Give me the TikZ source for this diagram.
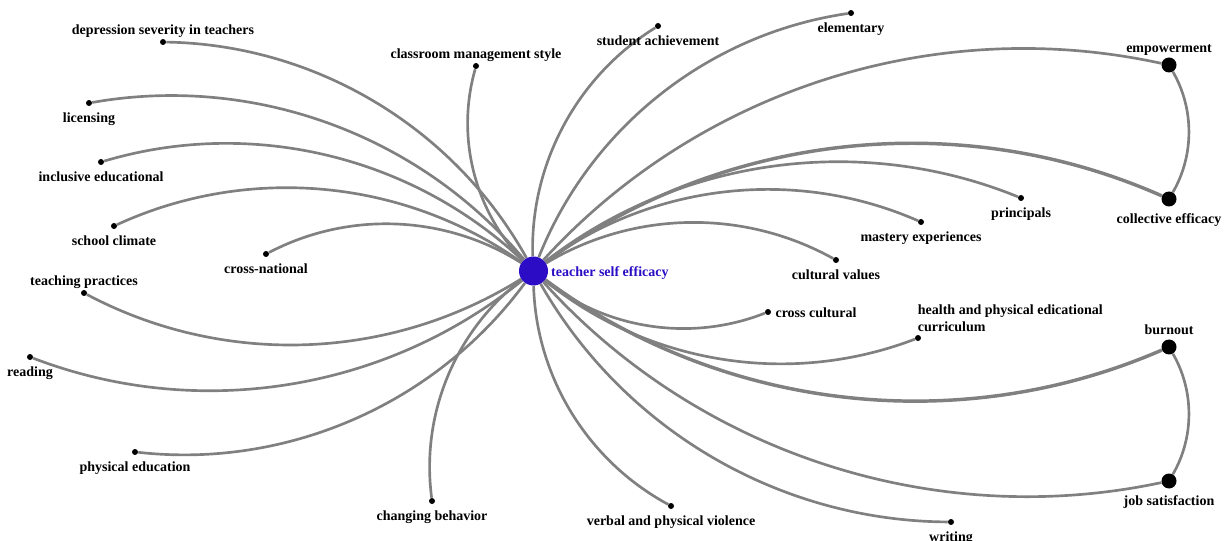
\documentclass[tikz,border=0pt]{standalone}
\usepackage{fontspec}
\setmainfont{Liberation Serif}
\usetikzlibrary{positioning}
\usetikzlibrary{backgrounds}
\definecolor{linkgray}{RGB}{128,128,128}
\definecolor{tseblue}{RGB}{44,12,196}

\begin{document}
\begin{tikzpicture}[x=0.75pt,y=-0.75pt] % 1 unit = 1 pixel of the screen
	\tikzset{dot/.style={fill=black,circle,inner sep=0pt,minimum size=4.5pt},
		hub/.style={fill=black,circle,inner sep=0pt,minimum size=11.25pt},
		lblbox/.style={font=\bfseries\fontsize{10.5}{12.75}\selectfont,inner sep=1pt},
		lbl/.style={lblbox,text height=7.2pt,text depth=2.3pt},
		link/.style={draw=linkgray,line width=2pt,looseness=0.91},
		heavy/.style={link,line width=2.6pt}}
	
	% Size of the whole picture
	\useasboundingbox (0,0) rectangle (1227,541);
	
	% Central node
	\node[circle,fill=tseblue,inner sep=0pt,minimum size=21.75pt] (tse) at (533.5,271) {};
	\node[lbl,text=tseblue,right=1pt of tse,yshift=-1.5pt] (tseL) {teacher self efficacy};
	
	% Leaves on the left side
	\node[dot] (dep) at (163,42) {};
	\node[dot] (lic) at (89,103) {};
	\node[dot] (inc) at (101,162) {};
	\node[dot] (scl) at (114,226) {};
	\node[dot] (crn) at (266,254) {};
	\node[dot] (tea) at (84,293) {};
	\node[dot] (rea) at (30,357) {};
	\node[dot] (phe) at (135,452) {};
	\node[dot] (chb) at (432,501) {};
	
	% Leaves on the top and on the right side
	\node[dot] (cms) at (476,66) {};
	\node[dot] (stu) at (658,26) {};
	\node[dot] (ele) at (851,13) {};
	\node[dot] (pri) at (1021,198) {};
	\node[dot] (mas) at (921,222) {};
	\node[dot] (cul) at (836,260) {};
	\node[dot] (ccu) at (768,312) {};
	\node[dot] (hpe) at (918,338) {};
	\node[dot] (wri) at (951,522) {};
	\node[dot] (vpv) at (671,506) {};
	
	% Larger nodes on the far right
	\node[hub] (emp) at (1169,65) {};
	\node[hub] (col) at (1169,199) {};
	\node[hub] (bur) at (1169,347) {};
	\node[hub] (job) at (1169,481) {};
	
	% Labels
	\node[lbl,above=0pt of dep] (depL) {depression severity in teachers};
	\node[lbl,below=4pt of lic] (licL) {licensing};
	\node[lbl,below=4pt of inc] (incL) {inclusive educational};
	\node[lbl,below=4pt of scl] (sclL) {school climate};
	\node[lbl,below=4pt of crn] (crnL) {cross-national};
	\node[lbl,above=0pt of tea] (teaL) {teaching practices};
	\node[lbl,below=4pt of rea] (reaL) {reading};
	\node[lbl,below=4pt of phe] (pheL) {physical education};
	\node[lbl,below=4pt of chb] (chbL) {changing behavior};
	\node[lbl,above=0pt of cms] (cmsL) {classroom management style};
	\node[lbl,below=4pt of stu] (stuL) {student achievement};
	\node[lbl,below=4pt of ele] (eleL) {elementary};
	\node[lbl,below=4pt of pri] (priL) {principals};
	\node[lbl,below=4pt of mas] (masL) {mastery experiences};
	\node[lbl,below=4pt of cul] (culL) {cultural values};
	\node[lbl,right=2pt of ccu,yshift=-1.5pt] (ccuL) {cross cultural};
	\node[lblbox,align=left,above right=1.5pt and -3pt of hpe] (hpeL) {health and physical edicational\\curriculum};
	\node[lbl,below=4pt of wri] (wriL) {writing};
	\node[lbl,below=4pt of vpv] (vpvL) {verbal and physical violence};
	\node[lbl,above=0pt of emp] (empL) {empowerment};
	\node[lbl,below=4pt of col] (colL) {collective efficacy};
	\node[lbl,above=0pt of bur] (burL) {burnout};
	\node[lbl,below=4pt of job] (jobL) {job satisfaction};
	
	% Links, drawn under the nodes
	\begin{scope}[on background layer]
		\foreach \leaf in {dep,lic,inc,scl,crn,chb,ccu,hpe,job,wri,vpv}
		{
			\draw[link] (tse) to[bend right] (\leaf);
		}
		\foreach \leaf in {tea,rea,phe,cms,stu,ele,emp,pri,mas,cul}
		{
			\draw[link] (tse) to[bend left] (\leaf);
		}
		\draw[heavy] (tse) to[bend left] (col);
		\draw[heavy] (tse) to[bend right] (bur);
		
		% Links between the larger nodes
		\draw[link] (emp) to[bend left] (col);
		\draw[link] (bur) to[bend left] (job);
	\end{scope}
	
\end{tikzpicture}
\end{document}
